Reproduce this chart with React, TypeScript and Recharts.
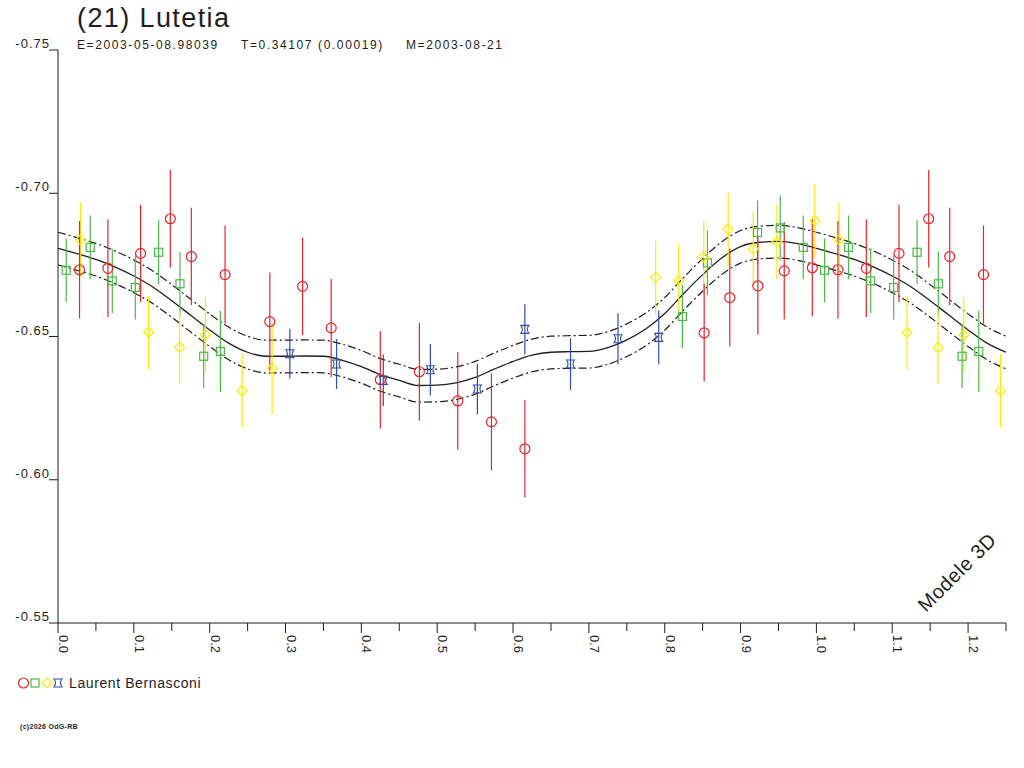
import React from 'react';
import { ComposedChart, Line, Scatter, ErrorBar, XAxis, YAxis } from 'recharts';

const FONT = '"Liberation Sans", Arial, sans-serif';
const INK = '#1e1e1e';
const RED = '#e8232b';
const GREEN = '#4db848';
const YELLOW = '#ffea00';
const BLUE = '#2e4ea6';

// phase, magnitude, 1-sigma error
const redObs = [
  { phase: 0.0284, mag: -0.6733, err: 0.017 },
  { phase: 0.0658, mag: -0.6738, err: 0.017 },
  { phase: 0.1089, mag: -0.679, err: 0.017 },
  { phase: 0.1481, mag: -0.6911, err: 0.017 },
  { phase: 0.1758, mag: -0.6779, err: 0.017 },
  { phase: 0.2203, mag: -0.6716, err: 0.0171 },
  { phase: 0.2793, mag: -0.6552, err: 0.0171 },
  { phase: 0.3225, mag: -0.6675, err: 0.017 },
  { phase: 0.3602, mag: -0.653, err: 0.0171 },
  { phase: 0.425, mag: -0.6349, err: 0.017 },
  { phase: 0.4765, mag: -0.6377, err: 0.0171 },
  { phase: 0.5271, mag: -0.6275, err: 0.017 },
  { phase: 0.5715, mag: -0.6202, err: 0.017 },
  { phase: 0.6156, mag: -0.6108, err: 0.017 },
  { phase: 0.852, mag: -0.6513, err: 0.017 },
  { phase: 0.8858, mag: -0.6636, err: 0.017 },
  { phase: 0.9228, mag: -0.6677, err: 0.017 },
  { phase: 0.9576, mag: -0.6729, err: 0.017 },
  { phase: 0.9946, mag: -0.674, err: 0.0169 },
];

const greenObs = [
  { phase: 0.0108, mag: -0.6731, err: 0.0111 },
  { phase: 0.0425, mag: -0.6811, err: 0.0111 },
  { phase: 0.0716, mag: -0.6694, err: 0.0112 },
  { phase: 0.1019, mag: -0.6671, err: 0.0112 },
  { phase: 0.1327, mag: -0.6794, err: 0.0112 },
  { phase: 0.1608, mag: -0.6684, err: 0.0112 },
  { phase: 0.1921, mag: -0.6431, err: 0.0111 },
  { phase: 0.2141, mag: -0.6448, err: 0.0142 },
  { phase: 0.8233, mag: -0.657, err: 0.0111 },
  { phase: 0.8563, mag: -0.6757, err: 0.0113 },
  { phase: 0.9224, mag: -0.6863, err: 0.0112 },
  { phase: 0.9523, mag: -0.6879, err: 0.0113 },
  { phase: 0.9827, mag: -0.6811, err: 0.0111 },
];

const yellowObs = [
  { phase: 0.0297, mag: -0.6838, err: 0.013 },
  { phase: 0.1195, mag: -0.6514, err: 0.0128 },
  { phase: 0.1604, mag: -0.6462, err: 0.0127 },
  { phase: 0.1943, mag: -0.6506, err: 0.013 },
  { phase: 0.2428, mag: -0.6311, err: 0.0128 },
  { phase: 0.2823, mag: -0.6388, err: 0.0159 },
  { phase: 0.7881, mag: -0.6706, err: 0.0129 },
  { phase: 0.8184, mag: -0.6695, err: 0.0126 },
  { phase: 0.8515, mag: -0.6777, err: 0.0126 },
  { phase: 0.8837, mag: -0.6875, err: 0.0128 },
  { phase: 0.9167, mag: -0.6806, err: 0.0129 },
  { phase: 0.9479, mag: -0.683, err: 0.0128 },
  { phase: 0.998, mag: -0.6904, err: 0.013 },
];

const blueObs = [
  { phase: 0.3057, mag: -0.644, err: 0.0087 },
  { phase: 0.3673, mag: -0.6404, err: 0.0087 },
  { phase: 0.4289, mag: -0.6347, err: 0.009 },
  { phase: 0.491, mag: -0.6384, err: 0.009 },
  { phase: 0.553, mag: -0.6317, err: 0.0088 },
  { phase: 0.6156, mag: -0.6525, err: 0.0088 },
  { phase: 0.6758, mag: -0.6404, err: 0.009 },
  { phase: 0.7384, mag: -0.6492, err: 0.0089 },
  { phase: 0.7921, mag: -0.6497, err: 0.0095 },
];

// 3D model light curve and its envelope, one full rotation
const modelPhase = [
  0, 0.025, 0.05, 0.075, 0.1, 0.125, 0.15, 0.175, 0.2, 0.225, 0.25, 0.275, 0.3, 0.325,
  0.35, 0.375, 0.4, 0.425, 0.45, 0.475, 0.5, 0.525, 0.55, 0.575, 0.6, 0.625, 0.65,
  0.675, 0.7, 0.725, 0.75, 0.775, 0.8, 0.825, 0.85, 0.875, 0.9, 0.925, 0.95, 0.975,
];
const modelMag = [
  -0.6808, -0.6789, -0.6769, -0.6743, -0.6711, -0.6673, -0.6625, -0.6574, -0.6523, -0.6477,
  -0.6445, -0.6431, -0.6431, -0.6432, -0.6431, -0.6417, -0.6395, -0.6367, -0.6347, -0.6329,
  -0.633, -0.6338, -0.6357, -0.6386, -0.6413, -0.6435, -0.6445, -0.6447, -0.6448, -0.6461,
  -0.6488, -0.6526, -0.658, -0.665, -0.6716, -0.6774, -0.6814, -0.6829, -0.6832, -0.6824,
];
const modelUpper = [
  -0.6864, -0.6845, -0.6825, -0.6799, -0.6767, -0.6729, -0.6681, -0.663, -0.6579, -0.6533,
  -0.6501, -0.6487, -0.6487, -0.6488, -0.6487, -0.6473, -0.6451, -0.6423, -0.6403, -0.6385,
  -0.6386, -0.6394, -0.6413, -0.6442, -0.6469, -0.6491, -0.6501, -0.6503, -0.6504, -0.6517,
  -0.6544, -0.6582, -0.6636, -0.6706, -0.6772, -0.683, -0.687, -0.6885, -0.6888, -0.688,
];
const modelLower = [
  -0.675, -0.6731, -0.6711, -0.6685, -0.6653, -0.6615, -0.6567, -0.6516, -0.6465, -0.6419,
  -0.6387, -0.6373, -0.6373, -0.6374, -0.6373, -0.6359, -0.6337, -0.6309, -0.6289, -0.6271,
  -0.6272, -0.628, -0.6299, -0.6328, -0.6355, -0.6377, -0.6387, -0.6389, -0.639, -0.6403,
  -0.643, -0.6468, -0.6522, -0.6592, -0.6658, -0.6716, -0.6756, -0.6771, -0.6774, -0.6766,
];

const xTicks = [
  0, 0.05, 0.1, 0.15, 0.2, 0.25, 0.3, 0.35, 0.4, 0.45, 0.5, 0.55, 0.6, 0.65, 0.7, 0.75,
  0.8, 0.85, 0.9, 0.95, 1.0, 1.05, 1.1, 1.15, 1.2, 1.25,
];
const yTicks = [-0.75, -0.7, -0.65, -0.6, -0.55];

// the phase plot shows the first quarter of the cycle again after 1.0
const REPEAT_UNTIL = 0.25;
function withRepeat<T extends { phase: number }>(rows: T[]): T[] {
  const again = rows.filter((r) => r.phase <= REPEAT_UNTIL).map((r) => ({ ...r, phase: r.phase + 1 }));
  return [...rows, ...again];
}

const modelData = withRepeat(
  modelPhase.map((phase, i) => ({ phase, mag: modelMag[i], upper: modelUpper[i], lower: modelLower[i] }))
);

const CircleMark = ({ cx, cy }: any) => (
  <circle cx={cx} cy={cy} r={5} fill="none" stroke={RED} strokeWidth={1.2} />
);
const SquareMark = ({ cx, cy }: any) => (
  <rect x={cx - 4} y={cy - 4} width={8} height={8} fill="none" stroke={GREEN} strokeWidth={1.2} />
);
const DiamondMark = ({ cx, cy }: any) => (
  <path d={`M${cx},${cy - 5} L${cx + 5},${cy} L${cx},${cy + 5} L${cx - 5},${cy} Z`} fill="none" stroke={YELLOW} strokeWidth={1.2} />
);
const StarMark = ({ cx, cy }: any) => (
  <path
    d={`M${cx - 4},${cy - 4} L${cx + 4},${cy - 4} Q${cx + 1},${cy} ${cx + 4},${cy + 4} L${cx - 4},${cy + 4} Q${cx - 1},${cy} ${cx - 4},${cy - 4} Z`}
    fill="none"
    stroke={BLUE}
    strokeWidth={1.1}
  />
);

const XTick = (props: any) => {
  const { x, y, payload } = props;
  const v = payload.value as number;
  const major = Math.abs(v * 10 - Math.round(v * 10)) < 1e-6;
  const ty = y + 12;
  return (
    <g>
      <line x1={x} y1={y} x2={x} y2={y + (major ? 10 : 8)} stroke={INK} />
      {major && (
        <text x={x + 1} y={ty} transform={`rotate(90, ${x + 1}, ${ty})`} fontSize={13} fill={INK} fontFamily={FONT}>
          {v.toFixed(1)}
        </text>
      )}
    </g>
  );
};

const YTick = (props: any) => {
  const { x, y, payload } = props;
  return (
    <text x={x + 1} y={y - 2} textAnchor="end" fontSize={13} letterSpacing={1} fill={INK} fontFamily={FONT}>
      {(payload.value as number).toFixed(2)}
    </text>
  );
};

export default function App() {
  return (
    <div style={{ position: 'absolute', left: 0, top: 0, width: 1024, height: 768, background: '#fff' }}>
      <ComposedChart width={1024} height={768} margin={{ top: 50, right: 18, bottom: 105, left: 8 }}>
        <XAxis
          dataKey="phase"
          type="number"
          domain={[0, 1.25]}
          ticks={xTicks}
          interval={0}
          allowDataOverflow
          height={40}
          tickSize={0}
          tickMargin={0}
          tickLine={false}
          axisLine={{ stroke: INK }}
          tick={<XTick />}
        />
        <YAxis
          dataKey="mag"
          type="number"
          domain={[-0.75, -0.55]}
          reversed
          ticks={yTicks}
          interval={0}
          allowDataOverflow
          width={50}
          tickSize={9}
          tickMargin={0}
          tickLine={{ stroke: INK }}
          axisLine={{ stroke: INK }}
          tick={<YTick />}
        />
        <Line data={modelData} dataKey="upper" type="monotone" stroke={INK} strokeWidth={1.2} strokeDasharray="8 3 2 3" dot={false} isAnimationActive={false} />
        <Line data={modelData} dataKey="lower" type="monotone" stroke={INK} strokeWidth={1.2} strokeDasharray="8 3 2 3" dot={false} isAnimationActive={false} />
        <Line data={modelData} dataKey="mag" type="monotone" stroke={INK} strokeWidth={1.3} dot={false} isAnimationActive={false} />
        <Scatter data={withRepeat(greenObs)} dataKey="mag" shape={<SquareMark />} isAnimationActive={false}>
          <ErrorBar dataKey="err" direction="y" width={0} stroke={GREEN} strokeWidth={1.2} isAnimationActive={false} />
        </Scatter>
        <Scatter data={withRepeat(yellowObs)} dataKey="mag" shape={<DiamondMark />} isAnimationActive={false}>
          <ErrorBar dataKey="err" direction="y" width={0} stroke={YELLOW} strokeWidth={1.2} isAnimationActive={false} />
        </Scatter>
        <Scatter data={withRepeat(redObs)} dataKey="mag" shape={<CircleMark />} isAnimationActive={false}>
          <ErrorBar dataKey="err" direction="y" width={0} stroke={RED} strokeWidth={1.2} isAnimationActive={false} />
        </Scatter>
        <Scatter data={withRepeat(blueObs)} dataKey="mag" shape={<StarMark />} isAnimationActive={false}>
          <ErrorBar dataKey="err" direction="y" width={0} stroke={BLUE} strokeWidth={1.2} isAnimationActive={false} />
        </Scatter>
      </ComposedChart>

      <svg width={1024} height={768} style={{ position: 'absolute', left: 0, top: 0, pointerEvents: 'none' }} fontFamily={FONT}>
        <text x={77} y={27} fontSize={27} letterSpacing={1.4} fill={INK}>(21) Lutetia</text>
        <text x={77} y={49} fontSize={12} letterSpacing={1.6} fill={INK}>E=2003-05-08.98039</text>
        <text x={241} y={49} fontSize={12} letterSpacing={1.6} fill={INK}>T=0.34107 (0.00019)</text>
        <text x={406} y={49} fontSize={12} letterSpacing={1.6} fill={INK}>M=2003-08-21</text>
        <text x={926} y={613} fontSize={20} letterSpacing={0.5} fill={INK} transform="rotate(-45, 926, 613)">Modele 3D</text>

        <CircleMark cx={23.5} cy={683} />
        <SquareMark cx={35} cy={683} />
        <DiamondMark cx={47} cy={683} />
        <StarMark cx={58} cy={683} />
        <text x={69} y={688} fontSize={14} letterSpacing={0.6} fill={INK}>Laurent Bernasconi</text>
        <text x={20} y={729} fontSize={7} fontWeight="bold" letterSpacing={0.3} fill={INK}>(c)2026 OdG-RB</text>
      </svg>
    </div>
  );
}
